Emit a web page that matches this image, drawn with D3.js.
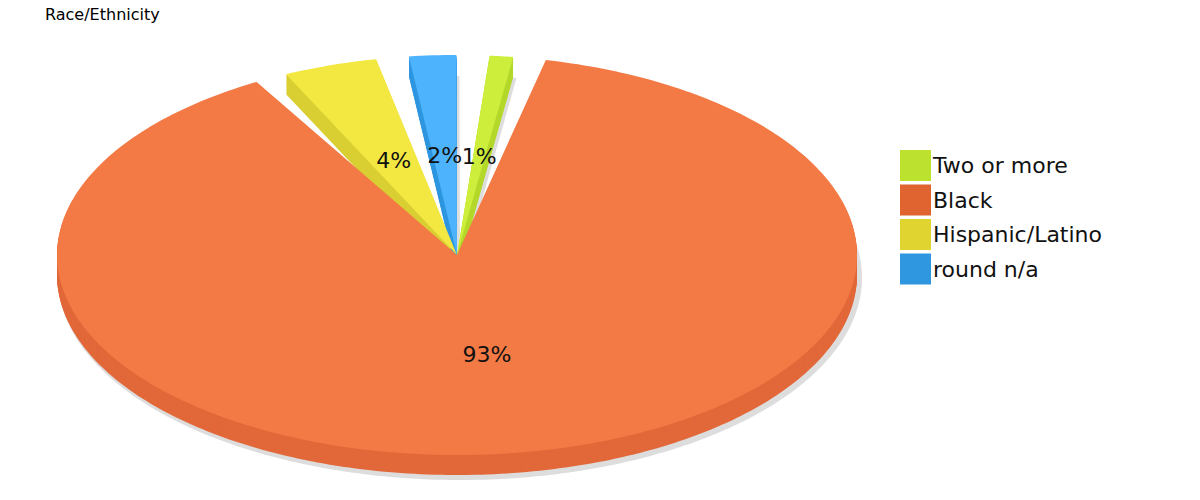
<!DOCTYPE html>
<html><head><meta charset="utf-8">
<script src="https://cdn.jsdelivr.net/npm/d3@7"></script>
<style>body{margin:0;background:#fff;font-family:"DejaVu Sans",Verdana,sans-serif}</style>
</head><body><svg id="chart" width="1200" height="500"></svg>
<script>
const categories = ['Two or more', 'Black', 'Hispanic/Latino', 'round n/a'];
const values = [1, 93, 4, 2];
const labels = ['1%', '93%', '4%', '2%'];
const topColors = ['#cdef3c', '#f37a44', '#f3e842', '#4db3fc'];
const sideColors = ['#b4d82c', '#e2683a', '#d9cf32', '#2f96e0'];
const legendColors = ['#bce22f', '#e0642f', '#e0d430', '#2e97e0'];

const svg = d3.select('#chart');
const cx = 457, cy = 255, rx = 400, ry = 200, depth = 20;
const pad = 0.083;

svg.append('text').attr('x', 45).attr('y', 20).attr('font-size', 16).text('Race/Ethnicity');

const pie = d3.pie().sort(null).startAngle(0.04).endAngle(0.04 + 2 * Math.PI).padAngle(pad);
const arcs = pie(values);

function slicePath(a, dy, grow) {
  let pts = [[cx, cy + dy]];
  let s = a.startAngle + pad / 2, e = a.endAngle - pad / 2;
  let n = Math.max(8, Math.ceil((e - s) * 60));
  for (let i = 0; i <= n; i++) {
    let t = s + (e - s) * i / n;
    pts.push([cx + (rx + grow) * Math.sin(t), cy + dy - (ry + grow) * Math.cos(t)]);
  }
  return d3.line()(pts) + 'Z';
}

// shadow
arcs.forEach(a => {
  svg.append('path').attr('d', slicePath(a, depth + 3, 2)).attr('transform', 'translate(3,0)')
    .attr('fill', '#ddd');
});
// side walls
arcs.forEach((a, i) => {
  for (let d = depth; d > 0; d -= 1) {
    svg.append('path').attr('d', slicePath(a, d, 0)).attr('fill', sideColors[i]);
  }
});
// tops
arcs.forEach((a, i) => {
  svg.append('path').attr('d', slicePath(a, 0, 0)).attr('fill', topColors[i]);
});
// labels
arcs.forEach((a, i) => {
  let m = (a.startAngle + a.endAngle) / 2;
  svg.append('text').attr('x', cx + rx * 0.5 * Math.sin(m)).attr('y', cy - ry * 0.5 * Math.cos(m) + 8)
    .attr('text-anchor', 'middle').attr('font-size', 22).attr('fill', '#111').text(labels[i]);
});

// legend
const lg = svg.append('g').attr('transform', 'translate(900,150)');
categories.forEach((c, i) => {
  lg.append('rect').attr('x', 0).attr('y', i * 34.5).attr('width', 31).attr('height', 31).attr('fill', legendColors[i]);
  lg.append('text').attr('x', 33).attr('y', i * 34.5 + 23).attr('font-size', 22).attr('fill', '#111').text(c);
});
</script></body></html>
